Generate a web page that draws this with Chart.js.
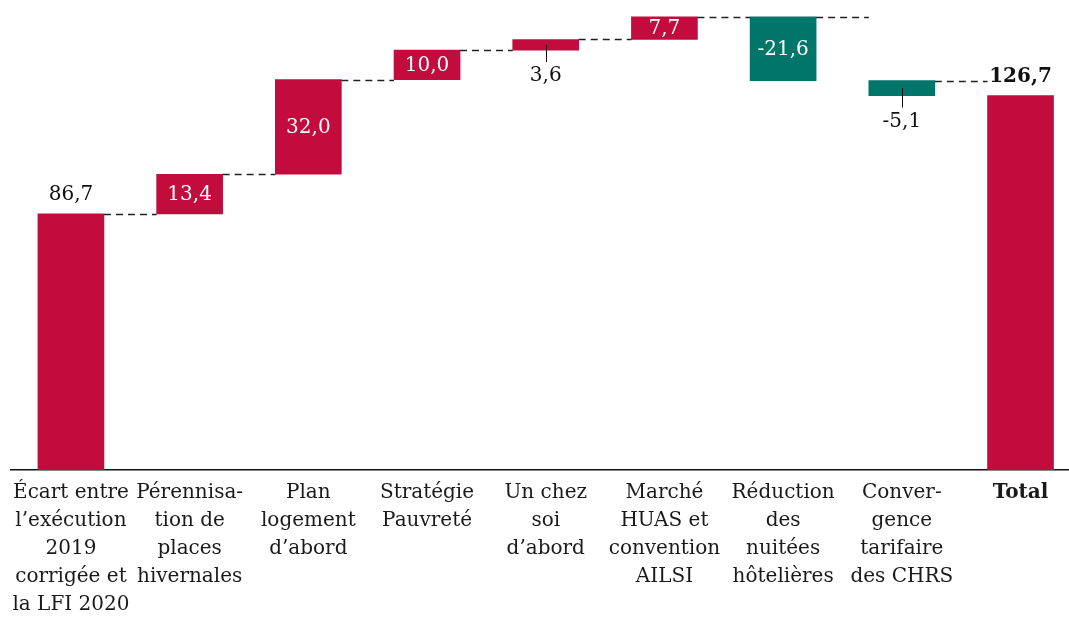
<!DOCTYPE html>
<html>
<head>
<meta charset="utf-8">
<script src="https://cdn.jsdelivr.net/npm/chart.js@4.4.0/dist/chart.umd.min.js"></script>
<style>
  html, body { margin: 0; padding: 0; background: #fff; }
  #wrap { width: 1069px; height: 618px; position: relative; }
</style>
</head>
<body>
<div id="wrap"><canvas id="chart"></canvas></div>
<script>
// categories (multi-line tick labels)
const categories = [
  ["Écart entre", "l’exécution", "2019", "corrigée et", "la LFI 2020"],
  ["Pérennisa-", "tion de", "places", "hivernales"],
  ["Plan", "logement", "d’abord"],
  ["Stratégie", "Pauvreté"],
  ["Un chez", "soi", "d’abord"],
  ["Marché", "HUAS et", "convention", "AILSI"],
  ["Réduction", "des", "nuitées", "hôtelières"],
  ["Conver-", "gence", "tarifaire", "des CHRS"],
  ["Total"]
];
// step values of the waterfall (first = starting level, last = total)
const steps = [86.7, 13.4, 32.0, 10.0, 3.6, 7.7, -21.6, -5.1];
const total = 126.7;

const RED = "#C30C3E";
const TEAL = "#00766B";
const FONT = "'DejaVu Serif', serif";

// build floating bars from the steps
const floating = [];
const colors = [];
const labelValues = [];
let level = 0;
steps.forEach((v, i) => {
  floating.push({ x: i, y: [level, level + v] });
  colors.push(v < 0 ? TEAL : RED);
  labelValues.push(v);
  level += v;
});
floating.push({ x: steps.length, y: [0, total] });
colors.push(RED);
labelValues.push(total);

const fmt = v => v.toFixed(1).replace(".", ",");

const waterfallPlugin = {
  id: "waterfall",
  afterDatasetsDraw(chart) {
    const ctx = chart.ctx;
    const meta = chart.getDatasetMeta(0);
    const last = meta.data.length - 1;
    ctx.save();
    // dashed connectors
    ctx.strokeStyle = "#222";
    ctx.lineWidth = 1.3;
    ctx.setLineDash([7, 5]);
    for (let i = 0; i < last; i++) {
      const a = meta.data[i], b = meta.data[i + 1];
      const y = Math.round(a.y) + 0.5;
      ctx.beginPath();
      ctx.moveTo(a.x + a.width / 2, y);
      ctx.lineTo(b.x - b.width / 2, y);
      ctx.stroke();
    }
    ctx.setLineDash([]);
    // value labels
    ctx.textAlign = "center";
    ctx.textBaseline = "middle";
    meta.data.forEach((el, i) => {
      const top = Math.min(el.y, el.base);
      const bottom = Math.max(el.y, el.base);
      const h = bottom - top;
      const txt = fmt(labelValues[i]);
      if (i === 0 || i === last) {
        ctx.font = (i === last ? "bold " : "") + "20px " + FONT;
        ctx.fillStyle = "#111";
        ctx.fillText(txt, el.x, top - 19);
      } else if (h > 18) {
        ctx.font = "20px " + FONT;
        ctx.fillStyle = "#fff";
        ctx.fillText(txt, el.x, (top + bottom) / 2 + 1);
      } else {
        const mid = (top + bottom) / 2;
        ctx.strokeStyle = "#111";
        ctx.lineWidth = 1;
        ctx.beginPath();
        ctx.moveTo(Math.round(el.x) + 0.5, mid);
        ctx.lineTo(Math.round(el.x) + 0.5, bottom + 12);
        ctx.stroke();
        ctx.font = "20px " + FONT;
        ctx.fillStyle = "#111";
        ctx.fillText(txt, el.x, bottom + 26);
      }
    });
    ctx.restore();
  }
};

new Chart(document.getElementById("chart"), {
  type: "bar",
  data: {
    datasets: [{
      data: floating,
      backgroundColor: colors,
      borderWidth: 0,
      barThickness: 66
    }]
  },
  options: {
    responsive: true,
    maintainAspectRatio: false,
    animation: false,
    layout: { padding: { top: 12, left: 11, right: 1, bottom: 0 } },
    plugins: { legend: { display: false }, tooltip: { enabled: false } },
    scales: {
      x: {
        type: "linear",
        offset: false,
        min: -0.505,
        max: 8.4,
        grid: { display: false, drawTicks: false },
        border: { display: true, color: "#111", width: 1.5 },
        afterBuildTicks: scale => {
          scale.ticks = categories.map((c, i) => ({ value: i }));
        },
        afterFit: scale => { scale.height = 148; },
        ticks: {
          autoSkip: false,
          maxRotation: 0,
          padding: 9,
          color: "#1a1a1a",
          font: c => ({ family: FONT, size: 20, lineHeight: 1.4, weight: c.index === 8 ? "bold" : "normal" }),
          callback: v => categories[v]
        }
      },
      y: {
        display: false,
        min: 0,
        max: 155
      }
    }
  },
  plugins: [waterfallPlugin]
});
</script>
</body>
</html>
